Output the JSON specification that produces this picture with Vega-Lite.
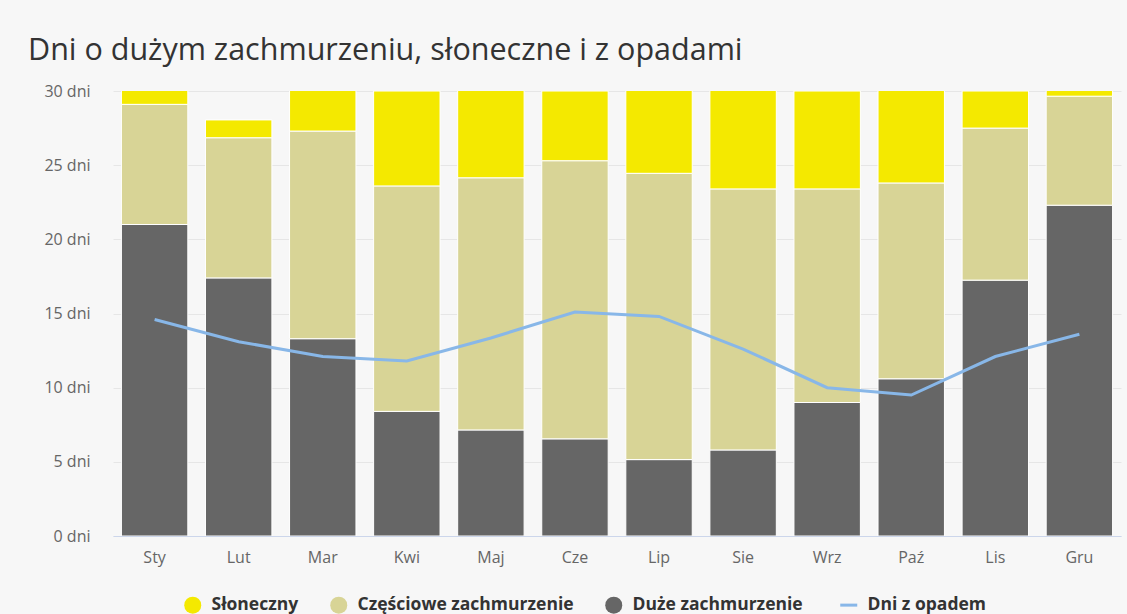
{
  "$schema": "https://vega.github.io/schema/vega-lite/v6.json",
  "width": 1008,
  "height": 445,
  "autosize": {"type": "none"},
  "padding": {"left": 113, "top": 91, "right": 6, "bottom": 78},
  "background": "#f7f7f7",
  "title": {
    "text": "Dni o dużym zachmurzeniu, słoneczne i z opadami",
    "anchor": "start",
    "frame": "group",
    "dx": -85,
    "offset": 17,
    "font": "Open Sans",
    "fontSize": 30.5,
    "fontWeight": "normal",
    "color": "#333333"
  },
  "datasets": {
    "bars": [
      {"month": "Sty", "category": "Duże zachmurzenie", "days": 21.0},
      {"month": "Sty", "category": "Częściowe zachmurzenie", "days": 8.1},
      {"month": "Sty", "category": "Słoneczny", "days": 1.9},
      {"month": "Lut", "category": "Duże zachmurzenie", "days": 17.4},
      {"month": "Lut", "category": "Częściowe zachmurzenie", "days": 9.45},
      {"month": "Lut", "category": "Słoneczny", "days": 1.2},
      {"month": "Mar", "category": "Duże zachmurzenie", "days": 13.3},
      {"month": "Mar", "category": "Częściowe zachmurzenie", "days": 14.0},
      {"month": "Mar", "category": "Słoneczny", "days": 3.7},
      {"month": "Kwi", "category": "Duże zachmurzenie", "days": 8.4},
      {"month": "Kwi", "category": "Częściowe zachmurzenie", "days": 15.2},
      {"month": "Kwi", "category": "Słoneczny", "days": 6.4},
      {"month": "Maj", "category": "Duże zachmurzenie", "days": 7.15},
      {"month": "Maj", "category": "Częściowe zachmurzenie", "days": 17.0},
      {"month": "Maj", "category": "Słoneczny", "days": 6.85},
      {"month": "Cze", "category": "Duże zachmurzenie", "days": 6.55},
      {"month": "Cze", "category": "Częściowe zachmurzenie", "days": 18.75},
      {"month": "Cze", "category": "Słoneczny", "days": 4.7},
      {"month": "Lip", "category": "Duże zachmurzenie", "days": 5.15},
      {"month": "Lip", "category": "Częściowe zachmurzenie", "days": 19.3},
      {"month": "Lip", "category": "Słoneczny", "days": 6.55},
      {"month": "Sie", "category": "Duże zachmurzenie", "days": 5.8},
      {"month": "Sie", "category": "Częściowe zachmurzenie", "days": 17.6},
      {"month": "Sie", "category": "Słoneczny", "days": 7.6},
      {"month": "Wrz", "category": "Duże zachmurzenie", "days": 9.0},
      {"month": "Wrz", "category": "Częściowe zachmurzenie", "days": 14.4},
      {"month": "Wrz", "category": "Słoneczny", "days": 6.6},
      {"month": "Paź", "category": "Duże zachmurzenie", "days": 10.6},
      {"month": "Paź", "category": "Częściowe zachmurzenie", "days": 13.2},
      {"month": "Paź", "category": "Słoneczny", "days": 7.2},
      {"month": "Lis", "category": "Duże zachmurzenie", "days": 17.25},
      {"month": "Lis", "category": "Częściowe zachmurzenie", "days": 10.25},
      {"month": "Lis", "category": "Słoneczny", "days": 2.5},
      {"month": "Gru", "category": "Duże zachmurzenie", "days": 22.3},
      {"month": "Gru", "category": "Częściowe zachmurzenie", "days": 7.35},
      {"month": "Gru", "category": "Słoneczny", "days": 1.35}
    ],
    "rain": [
      {"month": "Sty", "days": 14.6},
      {"month": "Lut", "days": 13.1},
      {"month": "Mar", "days": 12.1},
      {"month": "Kwi", "days": 11.8},
      {"month": "Maj", "days": 13.35},
      {"month": "Cze", "days": 15.1},
      {"month": "Lip", "days": 14.8},
      {"month": "Sie", "days": 12.6},
      {"month": "Wrz", "days": 10.0},
      {"month": "Paź", "days": 9.5},
      {"month": "Lis", "days": 12.1},
      {"month": "Gru", "days": 13.6}
    ]
  },
  "encoding": {
    "x": {
      "field": "month",
      "type": "nominal",
      "sort": ["Sty","Lut","Mar","Kwi","Maj","Cze","Lip","Sie","Wrz","Paź","Lis","Gru"],
      "scale": {"paddingInner": 0.21, "paddingOuter": 0.1},
      "axis": {
        "title": null,
        "labelAngle": 0,
        "ticks": false,
        "domainColor": "#ccd6eb",
        "domainWidth": 1,
        "labelPadding": 13,
        "labelFont": "Open Sans",
        "labelFontSize": 16,
        "labelColor": "#666666",
        "grid": false
      }
    }
  },
  "layer": [
    {
      "data": {"name": "bars"},
      "transform": [
        {"calculate": "indexof(['Duże zachmurzenie', 'Częściowe zachmurzenie', 'Słoneczny'], datum.category)", "as": "stackOrder"}
      ],
      "mark": {"type": "bar", "clip": true, "stroke": "#ffffff", "strokeWidth": 1},
      "encoding": {
        "y": {
          "field": "days",
          "type": "quantitative",
          "stack": "zero",
          "scale": {"domain": [0, 30], "nice": false},
          "axis": {
            "title": null,
            "values": [0, 5, 10, 15, 20, 25, 30],
            "labelExpr": "datum.value + ' dni'",
            "domain": false,
            "ticks": false,
            "labelPadding": 23,
            "labelFont": "Open Sans",
            "labelFontSize": 16,
            "labelColor": "#666666",
            "gridColor": "#e6e6e6",
            "gridWidth": 1
          }
        },
        "order": {"field": "stackOrder", "type": "quantitative", "sort": "ascending"},
        "color": {
          "field": "category",
          "type": "nominal",
          "scale": {
            "domain": ["Słoneczny", "Częściowe zachmurzenie", "Duże zachmurzenie", "Dni z opadem"],
            "range": ["#f4e900", "#d8d496", "#666666", "#88b7e8"]
          },
          "legend": {
            "orient": "none",
            "legendX": 71,
            "legendY": 505,
            "direction": "horizontal",
            "columns": 4,
            "title": null,
            "symbolType": "circle",
            "symbolSize": 289,
            "symbolStrokeWidth": 0,
            "symbolOpacity": 1,
            "labelFont": "Open Sans",
            "labelFontSize": 17.5,
            "labelFontWeight": "bold",
            "labelColor": "#333333",
            "labelLimit": 400,
            "labelOffset": 10,
            "columnPadding": 31,
            "encode": {
              "symbols": {
                "update": {
                  "shape": {"signal": "datum.value === 'Dni z opadem' ? 'stroke' : 'circle'"},
                  "stroke": {"signal": "scale('color', datum.value)"},
                  "strokeWidth": {"signal": "datum.value === 'Dni z opadem' ? 3 : 0"}
                }
              }
            }
          }
        }
      }
    },
    {
      "data": {"name": "rain"},
      "mark": {"type": "line", "strokeWidth": 3},
      "encoding": {
        "y": {"field": "days", "type": "quantitative"},
        "color": {
          "datum": "Dni z opadem",
          "legend": {
            "orient": "none",
            "legendX": 71,
            "legendY": 505,
            "direction": "horizontal",
            "columns": 4,
            "title": null,
            "symbolType": "circle",
            "symbolSize": 289,
            "symbolStrokeWidth": 0,
            "symbolOpacity": 1,
            "labelFont": "Open Sans",
            "labelFontSize": 17.5,
            "labelFontWeight": "bold",
            "labelColor": "#333333",
            "labelLimit": 400,
            "labelOffset": 10,
            "columnPadding": 31,
            "encode": {
              "symbols": {
                "update": {
                  "shape": {"signal": "datum.value === 'Dni z opadem' ? 'stroke' : 'circle'"},
                  "stroke": {"signal": "scale('color', datum.value)"},
                  "strokeWidth": {"signal": "datum.value === 'Dni z opadem' ? 3 : 0"}
                }
              }
            }
          }
        }
      }
    }
  ],
  "config": {"view": {"stroke": null}}
}
